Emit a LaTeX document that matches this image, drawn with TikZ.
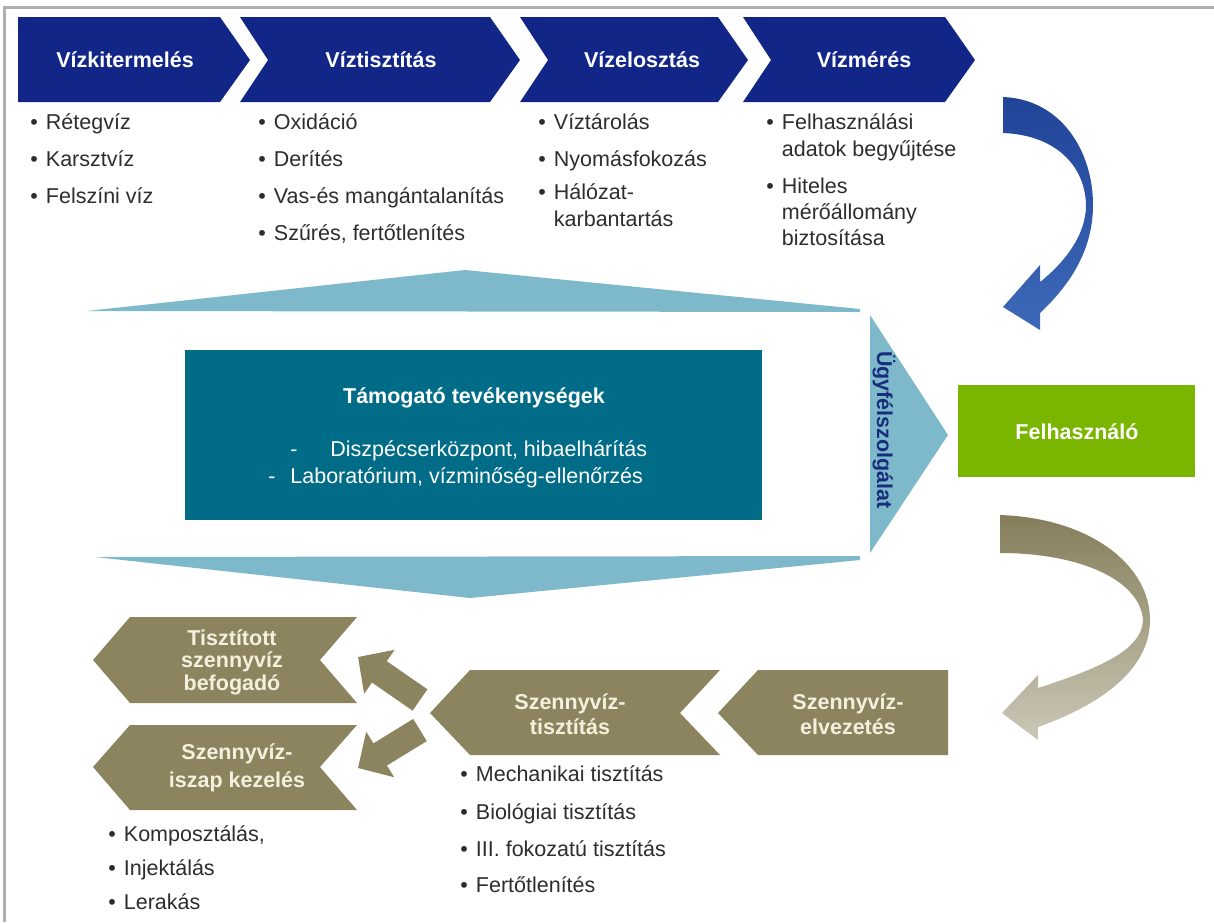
\documentclass[tikz,border=0pt]{standalone}
\usepackage{fontspec}
\setmainfont{Liberation Sans}
\usetikzlibrary{arrows.meta}

\definecolor{vizkek}{RGB}{18,38,135}
\definecolor{turkiz}{RGB}{0,108,135}
\definecolor{halvanykek}{RGB}{125,185,202}
\definecolor{zold}{RGB}{122,182,0}
\definecolor{olajzold}{RGB}{140,132,95}
\definecolor{szoveg}{RGB}{45,45,45}
\definecolor{keret}{RGB}{175,175,175}
\definecolor{ugyfel}{RGB}{25,45,125}
\definecolor{krem}{RGB}{245,240,222}
\definecolor{ivfelso}{RGB}{32,68,152}
\definecolor{ivalso}{RGB}{62,105,185}

\newcommand{\pont}{\textbullet\hspace{4pt}}
\newcommand{\folyt}{\phantom{\textbullet}\hspace{4pt}}

\begin{document}
\begin{tikzpicture}[x=0.5pt, y=-0.5pt,
    cim/.style={font=\fontsize{10.75}{12.5}\selectfont\bfseries, text=white, align=center, inner sep=0pt},
    lentcim/.style={cim, text=krem},
    lista/.style={font=\fontsize{10.75}{13}\selectfont, text=szoveg, anchor=base west, inner sep=0pt},
    sima/.style={font=\fontsize{10.75}{13}\selectfont, text=white, inner sep=0pt}]
    \useasboundingbox (0,0) rectangle (1214,922);
    \draw[keret, line width=1.5pt] (4,922) -- (4,7) -- (1214,7);

    % top chain
    \fill[vizkek] (18,17) -- (220,17) -- (250,60) -- (220,102) -- (18,102) -- cycle;
    \node[cim] (vk) at (125,60) {Vízkitermelés};
    \fill[vizkek] (240,17) -- (490,17) -- (520,60) -- (490,102) -- (240,102) -- (268,60) -- cycle;
    \node[cim] (vt) at (381,60) {Víztisztítás};
    \fill[vizkek] (520,17) -- (718,17) -- (748,60) -- (718,102) -- (520,102) -- (548,60) -- cycle;
    \node[cim] (ve) at (642,60) {Vízelosztás};
    \fill[vizkek] (743,17) -- (945,17) -- (975,60) -- (945,102) -- (743,102) -- (771,60) -- cycle;
    \node[cim] (vm) at (864,60) {Vízmérés};

    \foreach \y/\t [count=\i] in {129/Rétegvíz, 166/Karsztvíz, 203/Felszíni víz}
        \node[lista] (vk\i) at (30,\y) {\pont\t};
    \foreach \y/\t [count=\i] in {129/Oxidáció, 166/Derítés, 203/Vas-és mangántalanítás, 240/{Szűrés, fertőtlenítés}}
        \node[lista] (vt\i) at (258,\y) {\pont\t};
    \foreach \y/\t [count=\i] in {129/\pont Víztárolás, 166/\pont Nyomásfokozás, 199/\pont Hálózat-, 226/\folyt karbantartás}
        \node[lista] (ve\i) at (538,\y) {\t};
    \foreach \y/\t [count=\i] in {129/\pont Felhasználási, 156/\folyt adatok begyűjtése, 193/\pont Hiteles, 219/\folyt mérőállomány, 245/\folyt biztosítása}
        \node[lista] (vm\i) at (766,\y) {\t};

    % big arrow of support activities
    \fill[halvanykek] (87,311) -- (465,270) -- (860,309) -- (860,312) -- cycle;
    \fill[halvanykek] (95,557) -- (860,556) -- (860,560) -- (470,598) -- cycle;
    \fill[halvanykek] (870,315) -- (948,435) -- (870,553) -- cycle;
    \node[font=\fontsize{10.75}{13}\selectfont\bfseries, text=ugyfel, rotate=-90, inner sep=0pt] (ugy) at (884,430) {Ügyfélszolgálat};

    \fill[turkiz] (185,350) rectangle (762,520);
    \node[cim] (tam) at (474,398) {Támogató tevékenységek};
    \node[sima, anchor=base west] (tam1) at (290,456) {\makebox[20pt][l]{-}Diszpécserközpont, hibaelhárítás};
    \node[sima, anchor=base west] (tam2) at (268,483) {\makebox[11pt][l]{-}Laboratórium, vízminőség-ellenőrzés};

    \fill[zold] (958,385) rectangle (1195,477);
    \node[cim] (felh) at (1077,432) {Felhasználó};

    % curved arrows
    \path[top color=ivfelso, bottom color=ivalso]
        (1003,97) .. controls (1060,99) and (1093,150) .. (1093,205)
        .. controls (1093,250) and (1070,285) .. (1040,313)
        -- (1040,330) -- (1003,307) -- (1040,265) -- (1040,282)
        .. controls (1065,262) and (1086,235) .. (1086,205)
        .. controls (1085,165) and (1055,135) .. (1003,133) -- cycle;
    \path[top color=olajzold!95!black, bottom color=olajzold!45!white]
        (1000,515) .. controls (1090,518) and (1150,565) .. (1150,620)
        .. controls (1150,670) and (1100,705) .. (1038,727)
        -- (1038,740) -- (1002,713) -- (1038,675) -- (1038,688)
        .. controls (1100,668) and (1142,650) .. (1143,620)
        .. controls (1140,580) and (1080,553) .. (1000,553) -- cycle;

    % waste water chain
    \fill[olajzold] (718,713) -- (758,670) -- (948,670) -- (948,755) -- (758,755) -- cycle;
    \node[lentcim] (sze) at (848,714) {Szennyvíz-\\elvezetés};
    \fill[olajzold] (430,713) -- (470,670) -- (720,670) -- (680,713) -- (720,755) -- (470,755) -- cycle;
    \node[lentcim] (szt) at (570,714) {Szennyvíz-\\tisztítás};
    \fill[olajzold] (93,660) -- (130,617) -- (357,617) -- (320,660) -- (357,703) -- (130,703) -- cycle;
    \node[lentcim, font=\fontsize{10.75}{11.25}\selectfont\bfseries] (bef) at (232,662) {Tisztított\\szennyvíz\\befogadó};
    \fill[olajzold] (93,767) -- (130,725) -- (357,725) -- (320,767) -- (357,810) -- (130,810) -- cycle;
    \node[lentcim, font=\fontsize{10.75}{14}\selectfont\bfseries] (isz) at (237,768) {Szennyvíz-\\iszap kezelés};

    \coordinate (fel0) at (420,700);
    \coordinate (fel1) at (358,657);
    \coordinate (le0) at (420,730);
    \coordinate (le1) at (358,768);
    \draw[olajzold, line width=13pt, -{Triangle[width=26pt,length=13pt]}] (fel0) -- (fel1);
    \draw[olajzold, line width=13pt, -{Triangle[width=26pt,length=13pt]}] (le0) -- (le1);

    \foreach \y/\t [count=\i] in {781/Mechanikai tisztítás, 819/Biológiai tisztítás, 856/III. fokozatú tisztítás, 892/Fertőtlenítés}
        \node[lista] (szt\i) at (460,\y) {\pont\t};
    \foreach \y/\t [count=\i] in {841/{Komposztálás,}, 875/Injektálás, 909/Lerakás}
        \node[lista] (isz\i) at (108,\y) {\pont\t};
\end{tikzpicture}
\end{document}
